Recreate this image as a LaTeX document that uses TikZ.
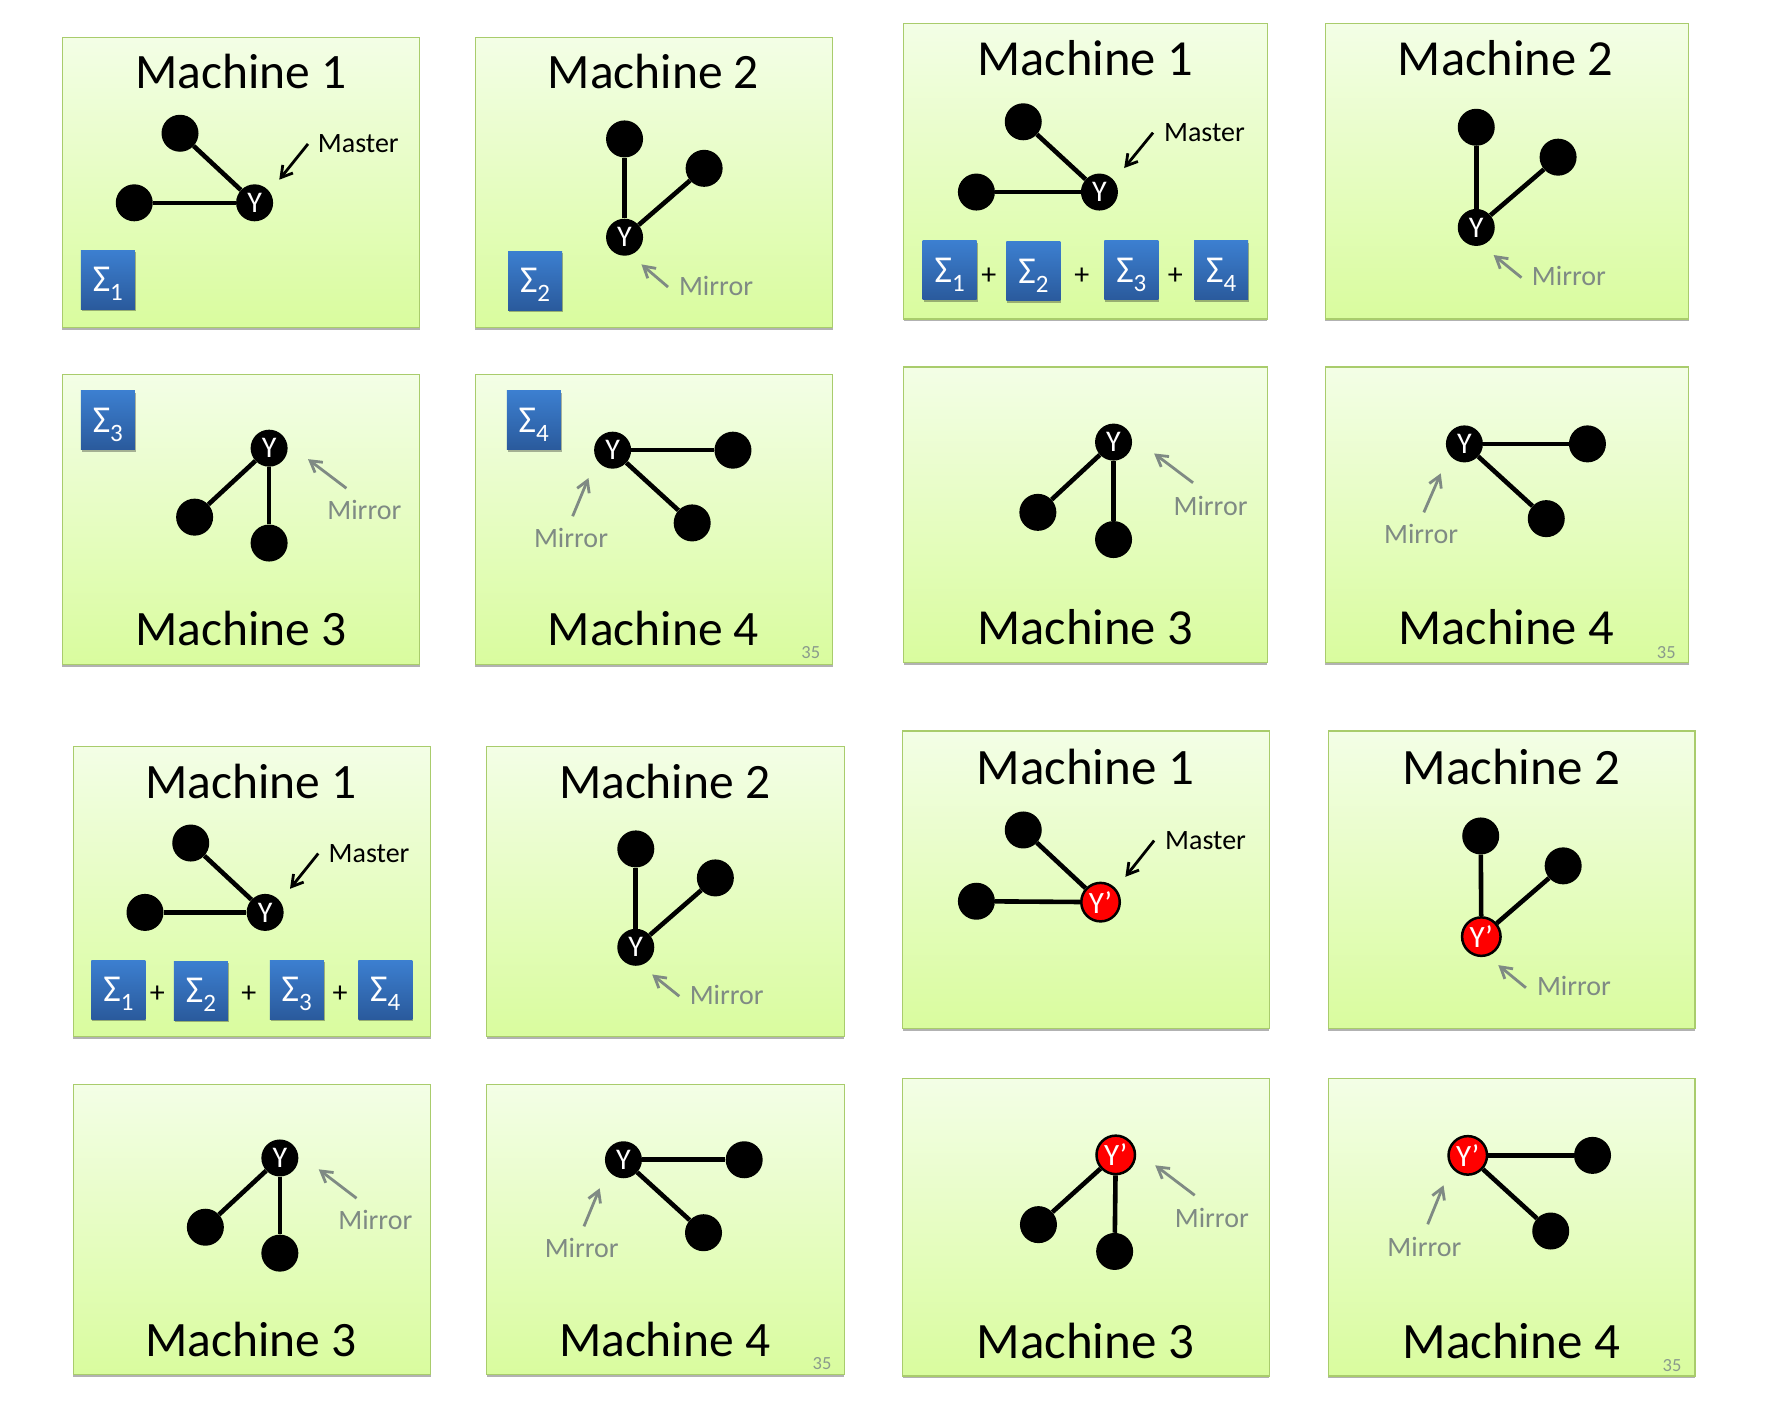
\documentclass[tikz,border=0pt]{standalone}
\usepackage{fontspec}
\setmainfont{Carlito}
\usetikzlibrary{arrows.meta,shadows}

\definecolor{card-top}{HTML}{F3FEE6}
\definecolor{card-bottom}{HTML}{D9FC9E}
\definecolor{card-edge}{HTML}{A9CC6C}
\definecolor{sum-top}{HTML}{3C7FD0}
\definecolor{sum-bottom}{HTML}{2A5A9C}
\definecolor{mirror-gray}{HTML}{7F8A84}
\definecolor{page-gray}{HTML}{8A9A8C}

\tikzstyle{card}=[rectangle, inner sep=0pt, draw=card-edge, line width=1.2pt, top color=card-top, bottom color=card-bottom, drop shadow={shadow xshift=0pt, shadow yshift=-2.5pt, fill=black, opacity=.3}]
\tikzstyle{card-a}=[card, minimum width=357.4pt, minimum height=289.7pt]
\tikzstyle{card-b}=[card, minimum width=363.5pt, minimum height=295.7pt]
\tikzstyle{card-d}=[card, minimum width=366.7pt, minimum height=297.7pt]
\tikzstyle{title-a}=[inner sep=0pt, anchor=base, font=\fontsize{49.5}{49}\selectfont]
\tikzstyle{title-b}=[title-a, font=\fontsize{50.5}{50}\selectfont]
\tikzstyle{title-d}=[title-a, font=\fontsize{51}{51}\selectfont]
\tikzstyle{leaf}=[circle, inner sep=0pt, minimum size=37pt, fill=black]
\tikzstyle{root}=[leaf, text=white, font=\fontsize{30}{30}\selectfont]
\tikzstyle{root-new}=[circle, inner sep=0pt, minimum size=38.5pt, draw=black, line width=2.5pt, fill=red, text=white, font=\fontsize{31}{31}\selectfont]
\tikzstyle{link}=[line width=4.6pt, black]
\tikzstyle{master-note}=[inner sep=0pt, anchor=base west, xshift=-1pt, font=\fontsize{28}{28}\selectfont]
\tikzstyle{mirror-note}=[master-note, text=mirror-gray]
\tikzstyle{master-arrow}=[line width=2.8pt, -{Straight Barb[length=11pt, width=13pt]}]
\tikzstyle{mirror-arrow}=[master-arrow, mirror-gray]
\tikzstyle{sum-box}=[rectangle, inner sep=0pt, minimum width=54pt, minimum height=59pt, top color=sum-top, bottom color=sum-bottom, text=white, font=\fontsize{38}{38}\selectfont, drop shadow={shadow xshift=1pt, shadow yshift=-2pt, fill=black, opacity=.3}]
\tikzstyle{plus}=[inner sep=0pt, font=\fontsize{30}{30}\selectfont]
\tikzstyle{page-no}=[inner sep=0pt, anchor=base west, text=page-gray, font=\fontsize{18.5}{19}\selectfont]

\newcommand{\sumtext}[1]{Σ\smash{\raisebox{-9pt}{\fontsize{25}{25}\selectfont #1}}}

\begin{document}
\begin{tikzpicture}[x=1pt, y=-1pt]
      \useasboundingbox (0, 0) rectangle (1770, 1422);

    \begin{scope}[x=.9945pt, y=-.9966pt, yshift=-.7pt]
      \node (a1) at (242.2, 182.2) [card-a] {};
      \node (a2) at (657.5, 182.2) [card-a] {};
      \node (a3) at (242.2, 520.7) [card-a] {};
      \node (a4) at (657.5, 520.7) [card-a] {};
      \node (a1-title) at (242, 88.2) [title-a] {Machine 1};
      \node (a2-title) at (657, 88.2) [title-a] {Machine 2};
      \node (a3-title) at (242, 647.3) [title-a] {Machine 3};
      \node (a4-title) at (657, 647.3) [title-a] {Machine 4};

      \node (a1-root) at (256, 202.8) [root] {Y};
      \node (a1-top) at (181, 133) [leaf] {};
      \node (a1-left) at (135, 202.8) [leaf] {};
      \draw [link] (a1-root) -- (a1-top);
      \draw [link] (a1-root) -- (a1-left);
      \node (a1-note) at (320.5, 152.3) [master-note] {Master};
      \coordinate (a1-from) at (309.7, 143.7);
      \coordinate (a1-to) at (280.8, 179.6);
      \draw [master-arrow] (a1-from) -- (a1-to);
      \node (a1-sum) at (108.4, 280) [sum-box] {\sumtext{1}};

      \node (a2-root) at (628, 237.3) [root] {Y};
      \node (a2-top) at (628, 138.7) [leaf] {};
      \node (a2-right) at (708, 168.2) [leaf] {};
      \draw [link] (a2-root) -- (a2-top);
      \draw [link] (a2-root) -- (a2-right);
      \node (a2-note) at (683.6, 295.5) [mirror-note] {Mirror};
      \coordinate (a2-from) at (671.7, 287.3);
      \coordinate (a2-to) at (645, 264.6);
      \draw [mirror-arrow] (a2-from) -- (a2-to);
      \node (a2-sum) at (538, 281) [sum-box] {\sumtext{2}};

      \node (a3-root) at (270.6, 449) [root] {Y};
      \node (a3-left) at (195.7, 518.2) [leaf] {};
      \node (a3-bottom) at (270.6, 544.2) [leaf] {};
      \draw [link] (a3-root) -- (a3-left);
      \draw [link] (a3-root) -- (a3-bottom);
      \node (a3-note) at (330, 520.5) [mirror-note] {Mirror};
      \coordinate (a3-from) at (348.3, 489.2);
      \coordinate (a3-to) at (309.7, 460);
      \draw [mirror-arrow] (a3-from) -- (a3-to);
      \node (a3-sum) at (108.4, 421) [sum-box] {\sumtext{3}};

      \node (a4-root) at (616, 451) [root] {Y};
      \node (a4-right) at (737, 451) [leaf] {};
      \node (a4-bottom) at (696, 524) [leaf] {};
      \draw [link] (a4-root) -- (a4-right);
      \draw [link] (a4-root) -- (a4-bottom);
      \node (a4-note) at (537.8, 548.7) [mirror-note] {Mirror};
      \coordinate (a4-from) at (575.8, 517.3);
      \coordinate (a4-to) at (591.7, 479);
      \draw [mirror-arrow] (a4-from) -- (a4-to);
      \node (a4-sum) at (536.7, 421) [sum-box] {\sumtext{4}};
      \node (a4-page) at (805.6, 660.5) [page-no] {35};
    \end{scope}

    \begin{scope}[x=.9945pt, y=-.9966pt, xshift=4.87pt, yshift=-.4pt]
      \node (b1) at (1086.6, 171.3) [card-b] {};
      \node (b2) at (1510.4, 171.3) [card-b] {};
      \node (b3) at (1086.6, 516.1) [card-b] {};
      \node (b4) at (1510.4, 516.1) [card-b] {};
      \node (b1-title) at (1086.4, 75.8) [title-b] {Machine 1};
      \node (b2-title) at (1509, 75.8) [title-b] {Machine 2};
      \node (b3-title) at (1086.4, 646.3) [title-b] {Machine 3};
      \node (b4-title) at (1509.6, 646.3) [title-b] {Machine 4};

      \node (b1-root) at (1100.6, 192.3) [root] {Y};
      \node (b1-top) at (1024, 121.8) [leaf] {};
      \node (b1-left) at (976.9, 192.3) [leaf] {};
      \draw [link] (b1-root) -- (b1-top);
      \draw [link] (b1-root) -- (b1-left);
      \node (b1-note) at (1166.4, 141.8) [master-note] {Master};
      \coordinate (b1-from) at (1154.5, 132.7);
      \coordinate (b1-to) at (1125.5, 168.2);
      \draw [master-arrow] (b1-from) -- (b1-to);
      \node (b1-sum1) at (950, 271) [sum-box] {\sumtext{1}};
      \node (b1-sum2) at (1034.2, 272) [sum-box] {\sumtext{2}};
      \node (b1-sum3) at (1132.7, 271) [sum-box] {\sumtext{3}};
      \node (b1-sum4) at (1223, 271) [sum-box] {\sumtext{4}};
      \node (b1-plus1) at (989.4, 276.4) [plus] {+};
      \node (b1-plus2) at (1083, 276.4) [plus] {+};
      \node (b1-plus3) at (1177, 276.4) [plus] {+};

      \node (b2-root) at (1479.5, 227.8) [root] {Y};
      \node (b2-top) at (1479.5, 127.3) [leaf] {};
      \node (b2-right) at (1561.8, 157.3) [leaf] {};
      \draw [link] (b2-root) -- (b2-top);
      \draw [link] (b2-root) -- (b2-right);
      \node (b2-note) at (1536.3, 286.4) [mirror-note] {Mirror};
      \coordinate (b2-from) at (1525, 278.2);
      \coordinate (b2-to) at (1497, 255.5);
      \draw [mirror-arrow] (b2-from) -- (b2-to);

      \node (b3-root) at (1114.8, 443.2) [root] {Y};
      \node (b3-left) at (1038.7, 513.7) [leaf] {};
      \node (b3-bottom) at (1114.8, 541) [leaf] {};
      \draw [link] (b3-root) -- (b3-left);
      \draw [link] (b3-root) -- (b3-bottom);
      \node (b3-note) at (1176, 516.4) [mirror-note] {Mirror};
      \coordinate (b3-from) at (1194.7, 484);
      \coordinate (b3-to) at (1155.6, 454.6);
      \draw [mirror-arrow] (b3-from) -- (b3-to);

      \node (b4-root) at (1467.6, 445) [root] {Y};
      \node (b4-right) at (1591.3, 445) [leaf] {};
      \node (b4-bottom) at (1549.9, 520) [leaf] {};
      \draw [link] (b4-root) -- (b4-right);
      \draw [link] (b4-root) -- (b4-bottom);
      \node (b4-note) at (1387.6, 545) [mirror-note] {Mirror};
      \coordinate (b4-from) at (1426.8, 513.7);
      \coordinate (b4-to) at (1443.8, 474.6);
      \draw [mirror-arrow] (b4-from) -- (b4-to);
      \node (b4-page) at (1661, 660) [page-no] {35};
    \end{scope}

    \begin{scope}[x=.9945pt, y=-.9966pt, yshift=-3.1pt]
      \node (c1) at (253.3, 891.4) [card-a] {};
      \node (c2) at (669.1, 891.4) [card-a] {};
      \node (c3) at (253.3, 1230.6) [card-a] {};
      \node (c4) at (669.1, 1230.6) [card-a] {};
      \node (c1-title) at (252.4, 798) [title-a] {Machine 1};
      \node (c2-title) at (668.3, 798) [title-a] {Machine 2};
      \node (c3-title) at (252.4, 1358) [title-a] {Machine 3};
      \node (c4-title) at (668.3, 1358) [title-a] {Machine 4};

      \node (c1-root) at (266.6, 912.4) [root] {Y};
      \node (c1-top) at (191.8, 842.8) [leaf] {};
      \node (c1-left) at (145.8, 912.4) [leaf] {};
      \draw [link] (c1-root) -- (c1-top);
      \draw [link] (c1-root) -- (c1-left);
      \node (c1-note) at (331.3, 862.4) [master-note] {Master};
      \coordinate (c1-from) at (320, 853.3);
      \coordinate (c1-to) at (291.6, 888.7);
      \draw [master-arrow] (c1-from) -- (c1-to);
      \node (c1-sum1) at (119.1, 990) [sum-box] {\sumtext{1}};
      \node (c1-sum2) at (202, 991) [sum-box] {\sumtext{2}};
      \node (c1-sum3) at (298.4, 990) [sum-box] {\sumtext{3}};
      \node (c1-sum4) at (387.4, 990) [sum-box] {\sumtext{4}};
      \node (c1-plus1) at (158.3, 995) [plus] {+};
      \node (c1-plus2) at (250.2, 995) [plus] {+};
      \node (c1-plus3) at (342, 995) [plus] {+};

      \node (c2-root) at (639.3, 947.4) [root] {Y};
      \node (c2-top) at (639.3, 848.7) [leaf] {};
      \node (c2-right) at (719.3, 877.8) [leaf] {};
      \draw [link] (c2-root) -- (c2-top);
      \draw [link] (c2-root) -- (c2-right);
      \node (c2-note) at (694.4, 1004.7) [mirror-note] {Mirror};
      \coordinate (c2-from) at (683, 996.5);
      \coordinate (c2-to) at (655.8, 974.7);
      \draw [mirror-arrow] (c2-from) -- (c2-to);

      \node (c3-root) at (281.4, 1158.8) [root] {Y};
      \node (c3-left) at (206.5, 1228.3) [leaf] {};
      \node (c3-bottom) at (281.4, 1254.3) [leaf] {};
      \draw [link] (c3-root) -- (c3-left);
      \draw [link] (c3-root) -- (c3-bottom);
      \node (c3-note) at (341, 1230.6) [mirror-note] {Mirror};
      \coordinate (c3-from) at (358.5, 1199.2);
      \coordinate (c3-to) at (320.5, 1170.2);
      \draw [mirror-arrow] (c3-from) -- (c3-to);

      \node (c4-root) at (626.9, 1160.6) [root] {Y};
      \node (c4-right) at (748.3, 1160.6) [leaf] {};
      \node (c4-bottom) at (707.4, 1233.8) [leaf] {};
      \draw [link] (c4-root) -- (c4-right);
      \draw [link] (c4-root) -- (c4-bottom);
      \node (c4-note) at (548.6, 1258.8) [mirror-note] {Mirror};
      \coordinate (c4-from) at (587.2, 1227.4);
      \coordinate (c4-to) at (603, 1189.2);
      \draw [mirror-arrow] (c4-from) -- (c4-to);
      \node (c4-page) at (817, 1371) [page-no] {35};
    \end{scope}

    \begin{scope}[x=.9945pt, y=-.9966pt, xshift=4.87pt, yshift=-2.8pt]
      \node (d1) at (1087.2, 880) [card-d] {};
      \node (d2) at (1515, 880) [card-d] {};
      \node (d3) at (1087.2, 1228.5) [card-d] {};
      \node (d4) at (1515, 1228.5) [card-d] {};
      \node (d1-title) at (1086.4, 784.4) [title-d] {Machine 1};
      \node (d2-title) at (1514.7, 784.4) [title-d] {Machine 2};
      \node (d3-title) at (1086.4, 1360.5) [title-d] {Machine 3};
      \node (d4-title) at (1514.7, 1360.5) [title-d] {Machine 4};

      \node (d1-root) at (1101.7, 902.4) [root-new] {Y’};
      \node (d1-top) at (1024, 830) [leaf] {};
      \node (d1-left) at (976.9, 901.5) [leaf] {};
      \draw [link] (d1-root) -- (d1-top);
      \draw [link] (d1-root) -- (d1-left);
      \node (d1-note) at (1167.5, 849.7) [master-note] {Master};
      \coordinate (d1-from) at (1155.6, 840.6);
      \coordinate (d1-to) at (1126.7, 877);
      \draw [master-arrow] (d1-from) -- (d1-to);

      \node (d2-root) at (1484.6, 937) [root-new] {Y’};
      \node (d2-top) at (1484, 836) [leaf] {};
      \node (d2-right) at (1566.9, 866) [leaf] {};
      \draw [link] (d2-root) -- (d2-top);
      \draw [link] (d2-root) -- (d2-right);
      \node (d2-note) at (1541.4, 996.5) [mirror-note] {Mirror};
      \coordinate (d2-from) at (1529.4, 988.3);
      \coordinate (d2-to) at (1501.7, 965.6);
      \draw [mirror-arrow] (d2-from) -- (d2-to);

      \node (d3-root) at (1117, 1156) [root-new] {Y’};
      \node (d3-left) at (1039.3, 1226) [leaf] {};
      \node (d3-bottom) at (1115.9, 1252.9) [leaf] {};
      \draw [link] (d3-root) -- (d3-left);
      \draw [link] (d3-root) -- (d3-bottom);
      \node (d3-note) at (1177.2, 1228.8) [mirror-note] {Mirror};
      \coordinate (d3-from) at (1196.4, 1196.5);
      \coordinate (d3-to) at (1156.7, 1166.5);
      \draw [mirror-arrow] (d3-from) -- (d3-to);

      \node (d4-root) at (1471, 1156.5) [root-new] {Y’};
      \node (d4-right) at (1596.4, 1156.5) [leaf] {};
      \node (d4-bottom) at (1554.4, 1232.4) [leaf] {};
      \draw [link] (d4-root) -- (d4-right);
      \draw [link] (d4-root) -- (d4-bottom);
      \node (d4-note) at (1391, 1257.9) [mirror-note] {Mirror};
      \coordinate (d4-from) at (1430.7, 1225.6);
      \coordinate (d4-to) at (1446.6, 1186.5);
      \draw [mirror-arrow] (d4-from) -- (d4-to);
      \node (d4-page) at (1666.8, 1373.3) [page-no] {35};
    \end{scope}
    \end{tikzpicture}
\end{document}
